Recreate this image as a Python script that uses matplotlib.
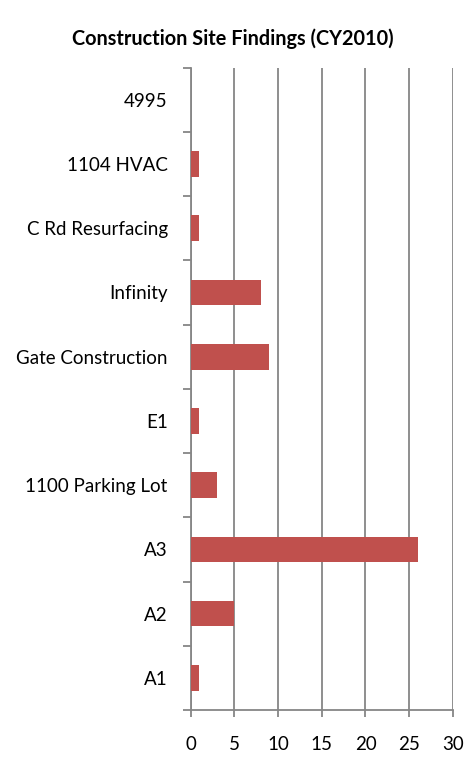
import matplotlib
matplotlib.use('Agg')
import matplotlib.pyplot as plt
import numpy as np

# categories, bottom to top
sites = ['A1', 'A2', 'A3', '1100 Parking Lot', 'E1', 'Gate Construction',
         'Infinity', 'C Rd Resurfacing', '1104 HVAC', '4995']
findings = [1, 5, 26, 3, 1, 9, 8, 1, 1, 0]
xticks = [0, 5, 10, 15, 20, 25, 30]

plt.rcParams['font.family'] = ['Lato', 'DejaVu Sans']

fig = plt.figure(figsize=(4.66, 7.59), dpi=100)
ax = fig.add_axes([0.409, 0.0646, 0.563, 0.8462])

y = np.arange(len(sites))
ax.barh(y, findings, height=0.4, color='#C0504D', zorder=3)

ax.set_xlim(0, 30)
ax.set_ylim(-0.5, len(sites) - 0.5)
ax.set_xticks(xticks)
ax.set_xticklabels([str(t) for t in xticks], fontsize=13.5)
ax.set_yticks(y)
ax.set_yticklabels(sites, fontsize=13.5)
ax.tick_params(axis='y', length=0, pad=16.5)
ax.set_yticks(np.arange(-0.5, len(sites)), minor=True)
ax.tick_params(axis='y', which='minor', length=6, width=1.3, color='#868686')
ax.tick_params(axis='x', length=5, width=1.3, color='#868686', pad=14)

ax.grid(axis='x', color='#868686', linewidth=1.3, zorder=0)
for s in ['top', 'right']:
    ax.spines[s].set_visible(False)
for s in ['left', 'bottom']:
    ax.spines[s].set_color('#868686')
    ax.spines[s].set_linewidth(1.3)

fig.suptitle('Construction Site Findings (CY2010)', fontsize=14.3,
             fontweight='bold', x=0.5, y=0.962)

plt.savefig('out.png', dpi=100)
